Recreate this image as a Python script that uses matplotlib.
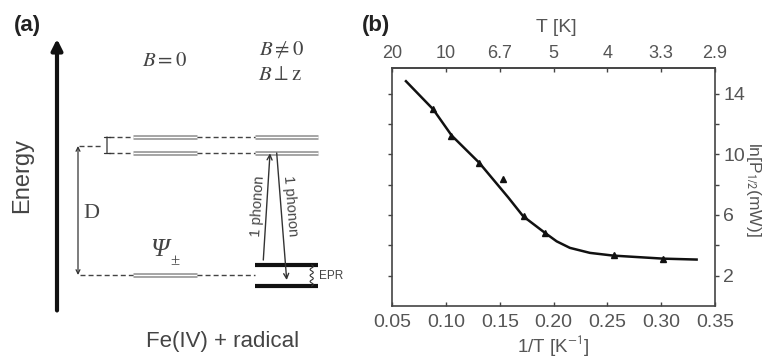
import numpy as np
import matplotlib
matplotlib.use('Agg')
import matplotlib.pyplot as plt

plt.rcParams['font.family'] = ['Liberation Sans', 'DejaVu Sans']
plt.rcParams['mathtext.fontset'] = 'stix'

# ---------------- data: panel (b) ----------------
inv_T_pts = [0.088, 0.105, 0.131, 0.153, 0.172, 0.192, 0.256, 0.302]
lnP_pts = [12.95, 11.19, 9.43, 8.40, 5.96, 4.82, 3.37, 3.10]
inv_T_fit = [0.0627, 0.0881, 0.1052, 0.1309, 0.1578, 0.1717, 0.1919, 0.2028,
             0.2151, 0.2337, 0.2554, 0.3019, 0.3329]
lnP_fit = [14.81, 12.95, 11.23, 9.43, 7.15, 5.91, 4.82, 4.26,
           3.83, 3.50, 3.32, 3.12, 3.06]
bottom_ticks = [0.05, 0.10, 0.15, 0.20, 0.25, 0.30, 0.35]
bottom_labels = ['0.05', '0.10', '0.15', '0.20', '0.25', '0.30', '0.35']
top_labels = ['20', '10', '6.7', '5', '4', '3.3', '2.9']
y_ticks = [2, 4, 6, 8, 10, 12, 14]
y_labels = ['2', '', '6', '', '10', '', '14']

# ---------------- data: panel (a) (energy units) ----------------
upper_levels = [9.48, 10.70]      # excited pair
ground_B0 = [0.0]                 # Psi +-
ground_B = [0.78, -0.85]          # split ground pair, B != 0
D_level = 10.0

W, H = 771, 359
fig = plt.figure(figsize=(W / 100, H / 100), dpi=100)
TXT = '#444444'

def ftext(x, y, s, **kw):
    fig.text(x / W, 1 - y / H, s, **kw)

# ---------------- panel (a) ----------------
axa = fig.add_axes([0, 0, 360 / W, 1])
axa.set_xlim(0, 360)
axa.set_ylim((275 - 359) / 12.9, 275 / 12.9)
axa.axis('off')

col_B0 = (133, 197)
col_B = (255, 318)

def double_line(x0, x1, e):
    axa.plot([x0, x1], [e, e], color='#9a9a9a', lw=3.4, solid_capstyle='butt')
    axa.plot([x0, x1], [e, e], color='white', lw=0.9, solid_capstyle='butt')

dash = dict(color='#444444', lw=1.0, dashes=(3.6, 2.2))
for e in upper_levels:
    double_line(*col_B0, e)
    double_line(*col_B, e)
    axa.plot([109, col_B0[0]], [e, e], **dash)
    axa.plot([col_B0[1], col_B[0]], [e, e], **dash)
for e in ground_B0:
    double_line(*col_B0, e)
    axa.plot([80, col_B0[0]], [e, e], **dash)
    axa.plot([col_B0[1], col_B[0]], [e, e], **dash)
for e in ground_B:
    axa.plot(list(col_B), [e, e], color='#111111', lw=3.0, solid_capstyle='butt')
axa.plot([79, 101], [D_level, D_level], **dash)

# Energy arrow
axa.annotate('', xy=(57, 18.3), xytext=(57, -2.75),
             arrowprops=dict(arrowstyle='-|>', lw=3.0, color='#111111',
                             mutation_scale=16, shrinkA=0, shrinkB=0))
# D arrow
axa.annotate('', xy=(78, ground_B0[0]), xytext=(78, D_level),
             arrowprops=dict(arrowstyle='<->', lw=0.9, color='#333333',
                             mutation_scale=7, shrinkA=0, shrinkB=0))
# small splitting bracket
axa.annotate('', xy=(107, upper_levels[0]), xytext=(107, upper_levels[1]),
             arrowprops=dict(arrowstyle='|-|', lw=0.9, color='#333333',
                             mutation_scale=2.5, shrinkA=0, shrinkB=0))
# phonon arrows
axa.annotate('', xy=(270, 9.43), xytext=(263.3, 1.16),
             arrowprops=dict(arrowstyle='->', lw=1.0, color='#333333',
                             mutation_scale=9, shrinkA=0, shrinkB=0))
axa.annotate('', xy=(286.7, -0.39), xytext=(276.7, 9.46),
             arrowprops=dict(arrowstyle='->', lw=1.0, color='#333333',
                             mutation_scale=9, shrinkA=0, shrinkB=0))
# EPR wiggle
ey = np.linspace(ground_B[1], ground_B[0], 60)
axa.plot(311.7 + 1.6 * np.sin((ey - ey[0]) / (ey[-1] - ey[0]) * 2 * np.pi * 3.5), ey,
         color='#333333', lw=0.8)

ftext(27, 26, '(a)', fontsize=16, fontweight='bold', color='#222222', ha='center', va='center')
ftext(22, 176, 'Energy', fontsize=17, rotation=90, color=TXT, ha='center', va='center')
ftext(165, 60, '$B = 0$', fontsize=15, color=TXT, ha='center', va='center')
ftext(282, 50, r'$B \neq 0$', fontsize=15, color=TXT, ha='center', va='center')
ftext(280, 75, r'$B \perp \mathrm{z}$', fontsize=15, color=TXT, ha='center', va='center')
ftext(91, 214, 'D', fontsize=16, family='Liberation Serif', color=TXT, ha='center', va='center')
ftext(159, 250, 'Ψ', fontsize=19, family='Liberation Serif', style='italic', color=TXT,
      ha='center', va='center')
ftext(175, 261, '±', fontsize=12, family='Liberation Serif', color=TXT, ha='center', va='center')
ftext(258, 206, '1 phonon', fontsize=10.5, rotation=86.4, color=TXT, ha='center', va='center',
      rotation_mode='anchor')
ftext(290, 206, '1 phonon', fontsize=10.5, rotation=-85.5, color=TXT, ha='center', va='center',
      rotation_mode='anchor')
ftext(319, 276, 'EPR', fontsize=8.5, color=TXT, ha='left', va='center')
ftext(223, 342, 'Fe(IV) + radical', fontsize=16, color=TXT, ha='center', va='center')

# ---------------- panel (b) ----------------
L, R, T, B = 392.3, 715.0, 67.7, 306.0
ax = fig.add_axes([L / W, 1 - B / H, (R - L) / W, (B - T) / H])
ax.plot(inv_T_fit, lnP_fit, color='#111111', lw=1.8)
ax.plot(inv_T_pts, lnP_pts, linestyle='none', marker='^', color='#111111', markersize=4.5)
ax.set_xlim(0.05, 0.35)
ax.set_ylim(0.0, 15.7)
for s in ax.spines.values():
    s.set_color('#444444')
    s.set_linewidth(1.2)

ax.set_xticks(bottom_ticks, bottom_labels)
ax.set_yticks(y_ticks, y_labels)
ax.tick_params(axis='x', direction='in', length=3, width=1, color='#444444',
               labelsize=14, labelcolor='#555555', pad=6)
ax.tick_params(axis='y', direction='out', length=3, width=1, color='#444444',
               left=True, right=True, labelleft=False, labelright=True,
               labelsize=14, labelcolor='#555555', pad=3)

sec = ax.secondary_xaxis('top')
sec.set_xticks(bottom_ticks, top_labels)
sec.tick_params(direction='in', length=3, width=1, color='#444444',
                labelsize=13, labelcolor='#555555', pad=4)
sec.spines['top'].set_color('#444444')
sec.spines['top'].set_linewidth(1.2)

ftext(376, 26, '(b)', fontsize=16, fontweight='bold', color='#222222', ha='center', va='center')
ftext(556.7, 27, 'T [K]', fontsize=14, color='#555555', ha='center', va='center')
ftext(553, 346, '1/T [K$^{\\mathsf{-1}}$]', fontsize=13.5, color='#555555', ha='center', va='center')
ftext(754, 189, 'ln[P$_{\\mathsf{1/2}}$(mW)]', fontsize=12.5, rotation=270, color='#555555',
      ha='center', va='center')

fig.savefig('out.png', dpi=100)
